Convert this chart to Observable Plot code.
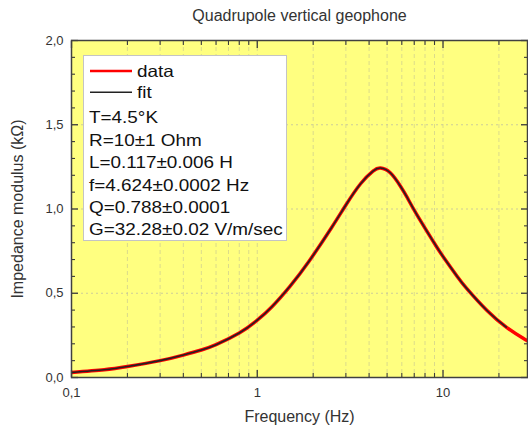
<!DOCTYPE html>
<html><head><meta charset="utf-8">
<script src="https://cdn.jsdelivr.net/npm/d3@7"></script>
<script src="https://cdn.jsdelivr.net/npm/@observablehq/plot@0.6"></script>
<style>
html,body{margin:0;padding:0;background:#fff;}
#wrap{position:relative;width:528px;height:427px;font-family:"Liberation Sans",Arial,sans-serif;}
#wrap svg.overlay{position:absolute;left:0;top:0;pointer-events:none;}
</style></head><body><div id="wrap"></div>
<script>
const title = "Quadrupole vertical geophone";
const xLabel = "Frequency (Hz)";
const yLabel = "Impedance modulus (kΩ)";

// measured impedance (kΩ) vs frequency (Hz)
const dataFreq = [0.1, 0.15, 0.2, 0.3, 0.4, 0.5, 0.6, 0.8, 1.0, 1.2, 1.5, 1.9, 2.5, 3.0, 3.6, 4.2, 4.6, 5.2, 5.9, 6.4, 7.2, 8.9, 10, 11.9, 13.4, 17.2, 21.9, 27, 30];
const dataZ    = [0.03, 0.046, 0.065, 0.10, 0.133, 0.163, 0.195, 0.264, 0.340, 0.420, 0.541, 0.690, 0.886, 1.024, 1.150, 1.225, 1.243, 1.215, 1.135, 1.07, 0.97, 0.804, 0.718, 0.601, 0.529, 0.399, 0.299, 0.233, 0.205];
// fitted curve
const fitFreq = [0.1, 0.15, 0.2, 0.3, 0.4, 0.5, 0.6, 0.8, 1.0, 1.2, 1.5, 1.9, 2.5, 3.0, 3.6, 4.2, 4.6, 5.2, 5.9, 6.4, 7.2, 8.9, 10, 11.9, 13.4, 17.2, 21.9];
const fitZ    = [0.03, 0.046, 0.065, 0.10, 0.133, 0.163, 0.195, 0.264, 0.340, 0.420, 0.541, 0.690, 0.886, 1.024, 1.150, 1.225, 1.243, 1.215, 1.135, 1.07, 0.97, 0.804, 0.718, 0.601, 0.529, 0.399, 0.299];

const xMajorTicks = [0.1, 1, 10];
const xMinorTicks = [0.2, 0.3, 0.4, 0.5, 0.6, 0.7, 0.8, 0.9, 2, 3, 4, 5, 6, 7, 8, 9, 20];
const yMajorTicks = [0, 0.5, 1.0, 1.5, 2.0];
const yMinorTicks = [0.1, 0.2, 0.3, 0.4, 0.6, 0.7, 0.8, 0.9, 1.1, 1.2, 1.3, 1.4, 1.6, 1.7, 1.8, 1.9];
const yGridLines = [0.5, 1.0, 1.5];

const legendSeries = ["data", "fit"];
const legendColors = ["#ff0000", "#222222"];
const legendStats = ["T=4.5°K", "R=10±1 Ohm", "L=0.117±0.006 H", "f=4.624±0.0002 Hz", "Q=0.788±0.0001", "G=32.28±0.02 V/m/sec"];

const data = dataFreq.map((f, i) => ({f, z: dataZ[i]}));
const fit = fitFreq.map((f, i) => ({f, z: fitZ[i]}));
const xGridLines = xMajorTicks.slice(1).concat(xMinorTicks);

const comma = (d) => String(d).replace(".", ",");
const ycomma = (d) => d3.format(".1f")(d).replace(".", ",");
const ink = "#333";
const tickColor = "#3a3a3a";

const chart = Plot.plot({
  width: 528, height: 427,
  marginTop: 40, marginLeft: 71, marginRight: 1, marginBottom: 50,
  x: {type: "log", domain: [0.1, 28.5]},
  y: {domain: [0, 2]},
  style: {fontFamily: "'Liberation Sans', Arial, sans-serif", background: "transparent", color: ink},
  marks: [
    Plot.frame({fill: "#ffff80", stroke: "none"}),
    Plot.ruleX(xGridLines, {stroke: "#d2d28e", strokeWidth: 0.8, strokeDasharray: "4,3"}),
    Plot.ruleY(yGridLines, {stroke: "#c0c0a0", strokeWidth: 0.8, strokeDasharray: "2,3"}),
    Plot.line(data, {x: "f", y: "z", stroke: legendColors[0], strokeWidth: 3.5, curve: "natural", clip: true}),
    Plot.line(fit, {x: "f", y: "z", stroke: legendColors[1], strokeWidth: 1.6, curve: "natural", clip: true}),
    // tick labels
    Plot.axisX(xMajorTicks, {anchor: "bottom", tickSize: 0, tickPadding: 10, tickFormat: comma, fontSize: 13, label: null, fill: ink}),
    Plot.axisY(yMajorTicks, {anchor: "left", tickSize: 0, tickPadding: 8, tickFormat: ycomma, fontSize: 13, label: null, fill: ink}),
    // inward ticks
    Plot.axisX(xMajorTicks, {anchor: "bottom", tickSize: -7, fill: "none", label: null, stroke: tickColor, strokeWidth: 1.3}),
    Plot.axisX(xMinorTicks, {anchor: "bottom", tickSize: -4, fill: "none", label: null, stroke: tickColor, strokeWidth: 1.1}),
    Plot.axisX(xMajorTicks, {anchor: "top", tickSize: -7, fill: "none", label: null, stroke: tickColor, strokeWidth: 1.3}),
    Plot.axisX(xMinorTicks, {anchor: "top", tickSize: -4, fill: "none", label: null, stroke: tickColor, strokeWidth: 1.1}),
    Plot.axisY(yMajorTicks, {anchor: "left", tickSize: -7, fill: "none", label: null, stroke: tickColor, strokeWidth: 1.3}),
    Plot.axisY(yMinorTicks, {anchor: "left", tickSize: -4, fill: "none", label: null, stroke: tickColor, strokeWidth: 1.1}),
    Plot.axisY(yMajorTicks, {anchor: "right", tickSize: -7, fill: "none", label: null, stroke: tickColor, strokeWidth: 1.3}),
    Plot.axisY(yMinorTicks, {anchor: "right", tickSize: -4, fill: "none", label: null, stroke: tickColor, strokeWidth: 1.1}),
    Plot.frame({stroke: "#404040", strokeWidth: 1.5}),
    // title and axis labels
    Plot.text([title], {frameAnchor: "top", dy: -24.6, lineAnchor: "middle", textAnchor: "middle", fontSize: 16, fill: ink}),
    Plot.text([xLabel], {frameAnchor: "bottom", dy: 39.4, lineAnchor: "middle", textAnchor: "middle", fontSize: 16, fill: ink}),
    Plot.text([yLabel], {frameAnchor: "left", dx: -54, rotate: -90, lineAnchor: "middle", textAnchor: "middle", fontSize: 16, fill: ink})
  ]
});

const wrap = document.getElementById("wrap");
wrap.appendChild(chart);

// legend box overlay
const lg = d3.select(wrap).append("svg").attr("class", "overlay")
  .attr("width", 528).attr("height", 427)
  .style("font-family", "'Liberation Sans', Arial, sans-serif");
const box = {x: 83.5, y: 55.5, w: 203, h: 185};
lg.append("rect").attr("x", box.x).attr("y", box.y).attr("width", box.w).attr("height", box.h)
  .attr("fill", "#fff").attr("stroke", "#c4c4c4").attr("stroke-width", 1);
const rowStep = 22.4;
legendSeries.forEach((s, i) => {
  const cy = 71 + i * 21.3;
  lg.append("line").attr("x1", 90).attr("x2", 132).attr("y1", cy).attr("y2", cy)
    .attr("stroke", legendColors[i]).attr("stroke-width", i === 0 ? 2.5 : 1.5);
  lg.append("text").attr("transform", `translate(137,${cy + 5.8}) scale(1.16,1)`)
    .attr("font-size", 16.3).attr("fill", "#111").text(s);
});
legendStats.forEach((s, i) => {
  lg.append("text").attr("transform", `translate(89,${123.3 + i * rowStep}) scale(1.16,1)`)
    .attr("font-size", 16.3).attr("fill", "#111").text(s);
});
</script></body></html>
